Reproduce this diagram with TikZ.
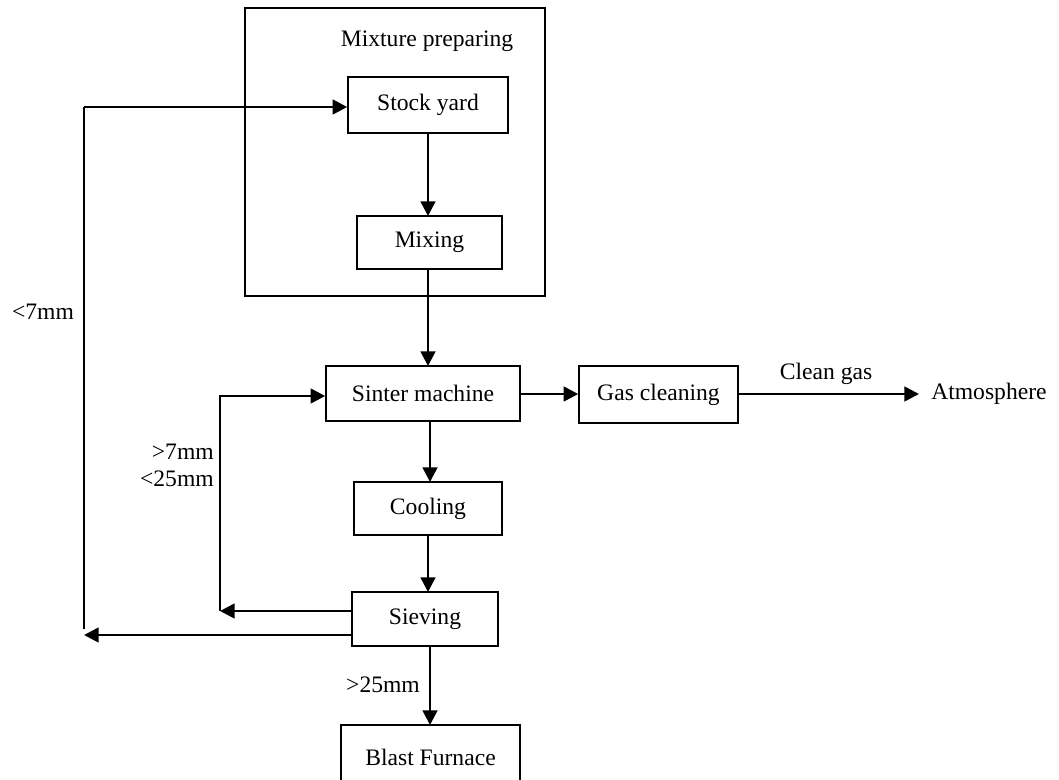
\documentclass[tikz,border=0pt]{standalone}
\usepackage{fontspec}
\setmainfont{Liberation Serif}
\usetikzlibrary{arrows.meta}
\begin{document}
\begin{tikzpicture}[x=0.75pt,y=-0.75pt,
  every node/.style={font=\fontsize{17.7}{20.4}\selectfont},
  box/.style={draw,line width=1.15pt,inner sep=0pt},
  flow/.style={line width=2pt,-{Triangle[length=11pt,width=11pt]}},
  plain/.style={line width=2pt},
  lbl/.style={inner sep=0pt}]
\useasboundingbox (0,0) rectangle (1059,780);
\clip (0,0) rectangle (1059,780);

% process boxes
\node[box,minimum width=225pt,minimum height=216pt] (prep) at (395,152) {};
\node[lbl] (preplbl) at (427,41) {Mixture preparing};
\node[box,minimum width=120pt,minimum height=42pt] (stock) at (428,105) {Stock yard};
\node[box,minimum width=108.75pt,minimum height=39.75pt] (mixing) at (429.5,242.5) {Mixing};
\node[box,minimum width=145.5pt,minimum height=41.25pt] (sinter) at (423,393.5) {Sinter machine};
\node[box,minimum width=119.25pt,minimum height=42.75pt] (gas) at (658.5,394.5) {Gas cleaning};
\node[lbl,anchor=west] (atm) at (931,394) {Atmosphere};
\node[box,minimum width=111pt,minimum height=39.75pt] (cooling) at (428,508.5) {Cooling};
\node[box,minimum width=109.5pt,minimum height=40.5pt] (sieving) at (425,619) {Sieving};
\node[box,minimum width=134.25pt,minimum height=48pt] (blast) at (430.5,757) {Blast Furnace};

% labels
\node[lbl] (lsmall) at (43,312) {<7mm};
\node[lbl,align=right,anchor=east] (lmid) at (214,465) {>7mm\\<25mm};
\node[lbl] (lbig) at (383,685) {>25mm};
\node[lbl] (lclean) at (826,374) {Clean gas};

% turning points of the return lines
\coordinate (rmid) at (220,611);
\coordinate (rfar) at (84,635);

% main flow
\draw[flow] (428,133) -- (428,216);
\draw[flow] (428,269) -- (428,366);
\draw[flow] (430,421) -- (430,482);
\draw[flow] (428,535) -- (428,592);
\draw[flow] (430,646) -- (430,725);
\draw[flow] (sinter.east |- 0,394) -- (gas.west |- 0,394);
\draw[flow] (gas.east |- 0,394) -- ([xshift=-9pt]atm.west);

% returns from sieving
\draw[flow] (sieving.west |- rmid) -- (rmid);
\draw[flow] (rmid) -- (220,396) -- (sinter.west |- 0,396);
\draw[flow] (sieving.west |- rfar) -- (rfar);
\draw[plain] (84,629) -- (84,107);
\draw[flow] (84,107) -- (stock.west |- 0,107);
\end{tikzpicture}
\end{document}
